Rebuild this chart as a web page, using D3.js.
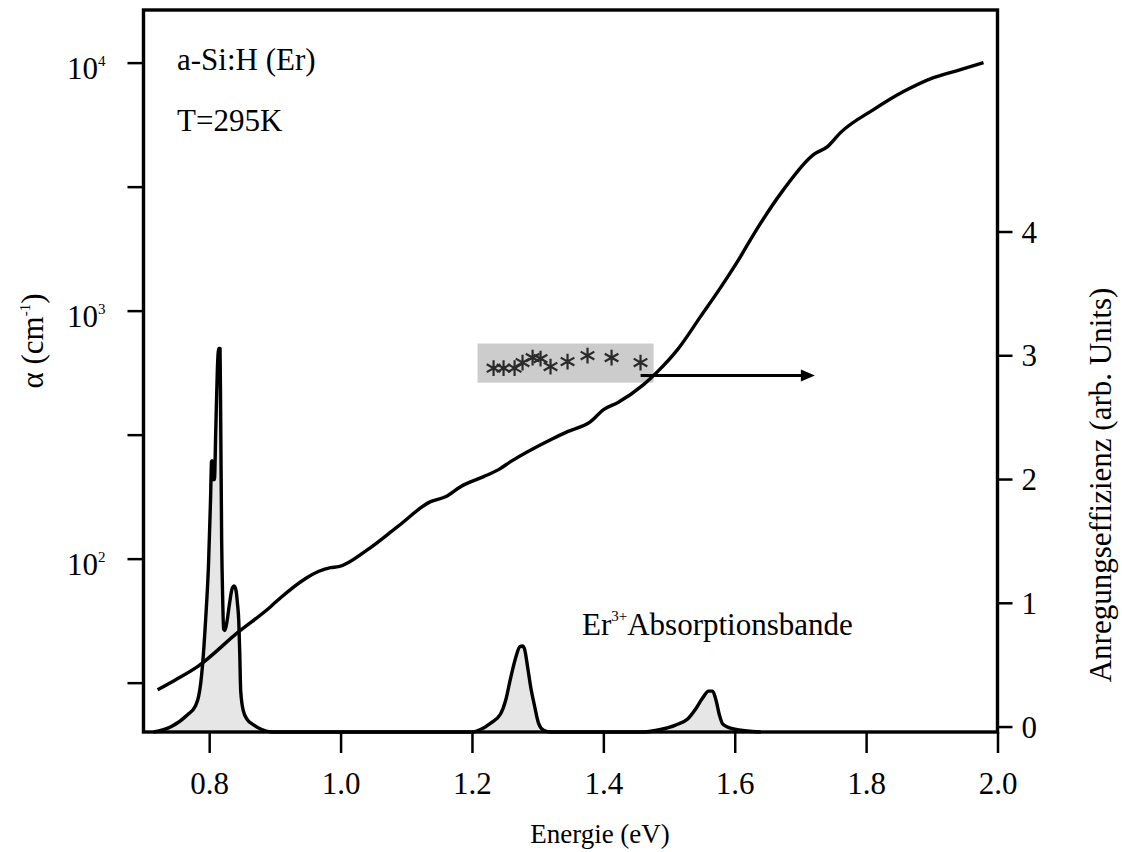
<!DOCTYPE html>
<html><head><meta charset="utf-8">
<script src="https://cdn.jsdelivr.net/npm/d3@7"></script>
<style>
body{margin:0;background:#fff}
text{font-family:"Liberation Serif","Times New Roman",serif;fill:#000}
</style>
</head><body>
<svg id="c" width="1122" height="852"></svg>
<script>
// ---- data ----
// absorption coefficient alpha (cm^-1) vs energy (eV), left log axis
const alphaE = [0.7215,0.749,0.7823,0.8432,0.8935,0.9087,0.9848,0.997,1.0411,1.0868,1.137,1.1598,1.1827,1.2177,1.2405,1.2588,1.3197,1.3455,1.3805,1.4003,1.4216,1.4612,1.4825,1.5129,1.5479,1.5784,1.6088,1.624,1.6743,1.7199,1.7412,1.761,1.8113,1.8569,1.9026,1.9437,1.9787];
const alphaV = [29.6,32.5,36.7,50.3,64.0,69.6,92.0,92.8,108.7,134.6,169.8,177.8,195.1,214.1,228.5,246.1,301.8,325.2,356.8,398.9,425.6,503.0,567.5,696.2,945.8,1237.7,1651,1933,3075,4256,4585,5221,6464,7641,8700,9371,10000];
// Er3+ absorption band trace (right axis, arb. units)
const bandE = [0.7155,0.741,0.767,0.779,0.784,0.787,0.790,0.7945,0.799,0.802,0.8037,0.805,0.806,0.808,0.810,0.8125,0.8145,0.8165,0.8175,0.819,0.8205,0.822,0.824,0.827,0.831,0.835,0.838,0.841,0.843,0.845,0.8465,0.848,0.852,0.858,0.867,0.880,0.895,1.2005,1.213,1.228,1.2435,1.251,1.259,1.266,1.273,1.277,1.280,1.2846,1.2892,1.2953,1.3014,1.309,1.3197,1.4612,1.4871,1.510,1.5283,1.5405,1.5511,1.5603,1.5664,1.571,1.5771,1.5817,1.5984,1.6395];
const bandV = [-0.04,0.0,0.10,0.17,0.25,0.35,0.51,0.86,1.32,1.83,2.15,2.15,2.0,2.0,2.4,2.9,3.06,3.06,2.5,1.5,1.05,0.79,0.78,0.85,1.0,1.12,1.14,1.10,1.0,0.86,0.60,0.29,0.13,0.06,0.02,-0.02,-0.04,-0.04,-0.02,0.03,0.105,0.21,0.40,0.55,0.65,0.655,0.63,0.49,0.33,0.17,0.03,-0.025,-0.04,-0.04,-0.02,0.016,0.065,0.146,0.235,0.29,0.29,0.227,0.09,0.024,-0.016,-0.04];
// excitation efficiency (stars), right axis
const starE = [1.2329,1.2481,1.2649,1.277,1.2923,1.3044,1.3196,1.3455,1.3759,1.4125,1.4566];
const starV = [2.90,2.90,2.90,2.945,2.985,2.977,2.913,2.953,3.002,2.985,2.945];
// annotation box and arrow (data units)
const boxE = [1.2085,1.4764];
const boxV = [2.783,3.099];
const arrowE = [1.4567,1.722];
const arrowV = 2.84;
// ticks
const xTicks = [0.8,1.0,1.2,1.4,1.6,1.8,2.0];
const leftMajor = [100,1000,10000];
const leftMajorExp = ["2","3","4"];
const leftMinor = [31.62,316.2,3162];
const rightTicks = [0,1,2,3,4];

// ---- layout ----
const L=143.5,R=997.5,T=10,B=732;
const svg=d3.select("#c");
const x=d3.scaleLinear().domain([0.70,2.0]).range([L,R]);
const yL=d3.scaleLog().domain([20,16300]).range([B,T]);
const yR=d3.scaleLinear().domain([-0.04,5.794]).range([B,T]);

// band fill + line
const bandPts=bandE.map((e,i)=>[e,bandV[i]]);
svg.append("path").datum(bandPts)
  .attr("d",d3.area().x(d=>x(d[0])).y0(yR(-0.04)).y1(d=>yR(d[1])).curve(d3.curveMonotoneX))
  .attr("fill","#e6e6e6").attr("stroke","none");
svg.append("path").datum(bandPts)
  .attr("d",d3.line().x(d=>x(d[0])).y(d=>yR(d[1])).curve(d3.curveMonotoneX))
  .attr("fill","none").attr("stroke","#000").attr("stroke-width",3.4).attr("stroke-linejoin","round");

// gray box with stars
svg.append("rect").attr("x",x(boxE[0])).attr("y",yR(boxV[1]))
  .attr("width",x(boxE[1])-x(boxE[0])).attr("height",yR(boxV[0])-yR(boxV[1]))
  .attr("fill","#cccccc");
const star=d3.symbol().type(d3.symbolAsterisk).size(175);
svg.append("g").selectAll("path").data(starE.map((e,i)=>[e,starV[i]])).join("path")
  .attr("d",star).attr("transform",d=>`translate(${x(d[0])},${yR(d[1])})`)
  .attr("fill","none").attr("stroke","#2a2a2a").attr("stroke-width",2.2);

// alpha curve
svg.append("path").datum(alphaE.map((e,i)=>[e,alphaV[i]]))
  .attr("d",d3.line().x(d=>x(d[0])).y(d=>yL(d[1])).curve(d3.curveMonotoneX))
  .attr("fill","none").attr("stroke","#000").attr("stroke-width",3.4).attr("stroke-linejoin","round");

// arrow
const ax0=x(arrowE[0]),ax1=x(arrowE[1]),ay=yR(arrowV);
svg.append("line").attr("x1",ax0).attr("x2",ax1-10).attr("y1",ay).attr("y2",ay)
  .attr("stroke","#000").attr("stroke-width",3);
svg.append("path").attr("d",`M${ax1},${ay}L${ax1-14},${ay-6}L${ax1-14},${ay+6}Z`).attr("fill","#000");

// frame
svg.append("rect").attr("x",L).attr("y",T).attr("width",R-L).attr("height",B-T)
  .attr("fill","none").attr("stroke","#000").attr("stroke-width",3.4);

// bottom axis
const gx=svg.append("g").attr("transform",`translate(0,${B})`)
  .call(d3.axisBottom(x).tickValues(xTicks).tickFormat(d3.format(".1f")).tickSize(21).tickPadding(19));
gx.select(".domain").remove();
gx.selectAll("line").attr("stroke-width",2.5);
gx.selectAll("text").attr("font-size",31).attr("font-family","Liberation Serif");

// left axis major
const gl=svg.append("g").attr("transform",`translate(${L},0)`)
  .call(d3.axisLeft(yL).tickValues(leftMajor).tickSize(16).tickPadding(22).tickFormat(()=>""));
gl.select(".domain").remove();
gl.selectAll("line").attr("stroke-width",2.5);
gl.selectAll("text").each(function(d,i){
  const t=d3.select(this).attr("font-size",31).attr("font-family","Liberation Serif").attr("dy","0.52em");
  t.append("tspan").text("10");
  t.append("tspan").text(leftMajorExp[i]).attr("font-size",15).attr("dy",-13);
});
const glm=svg.append("g").attr("transform",`translate(${L},0)`)
  .call(d3.axisLeft(yL).tickValues(leftMinor).tickSize(16).tickFormat(()=>""));
glm.select(".domain").remove();
glm.selectAll("line").attr("stroke-width",2.5);

// right axis (ticks outward to the right)
const gr=svg.append("g");
gr.selectAll("line").data(rightTicks).join("line")
  .attr("x1",R).attr("x2",R+15).attr("y1",d=>yR(d)).attr("y2",d=>yR(d))
  .attr("stroke","#000").attr("stroke-width",2.5);
gr.selectAll("text").data(rightTicks).join("text")
  .attr("x",R+24).attr("y",d=>yR(d)).attr("dy","0.34em")
  .attr("text-anchor","start").attr("font-size",31).text(d=>d3.format("d")(d));

// axis titles
svg.append("text").attr("x",600).attr("y",843).attr("text-anchor","middle").attr("font-size",27).text("Energie (eV)");
const lt=svg.append("text").attr("transform","translate(43,341) rotate(-90)").attr("text-anchor","middle").attr("font-size",31);
lt.append("tspan").text("\u03b1 (cm");
lt.append("tspan").text("-1").attr("font-size",15).attr("dy",-13);
lt.append("tspan").text(")").attr("dy",13);
svg.append("text").attr("transform","translate(1111,485) rotate(-90)").attr("text-anchor","middle").attr("font-size",31)
  .text("Anregungseffizienz (arb. Units)");

// annotations
svg.append("text").attr("x",177).attr("y",70).attr("font-size",31).text("a-Si:H (Er)");
svg.append("text").attr("x",177).attr("y",131).attr("font-size",31).text("T=295K");
const et=svg.append("text").attr("x",582).attr("y",635).attr("font-size",31);
et.append("tspan").text("Er");
et.append("tspan").text("3+").attr("font-size",15).attr("dy",-14);
et.append("tspan").text("Absorptionsbande").attr("dy",14);
</script>
</body></html>
